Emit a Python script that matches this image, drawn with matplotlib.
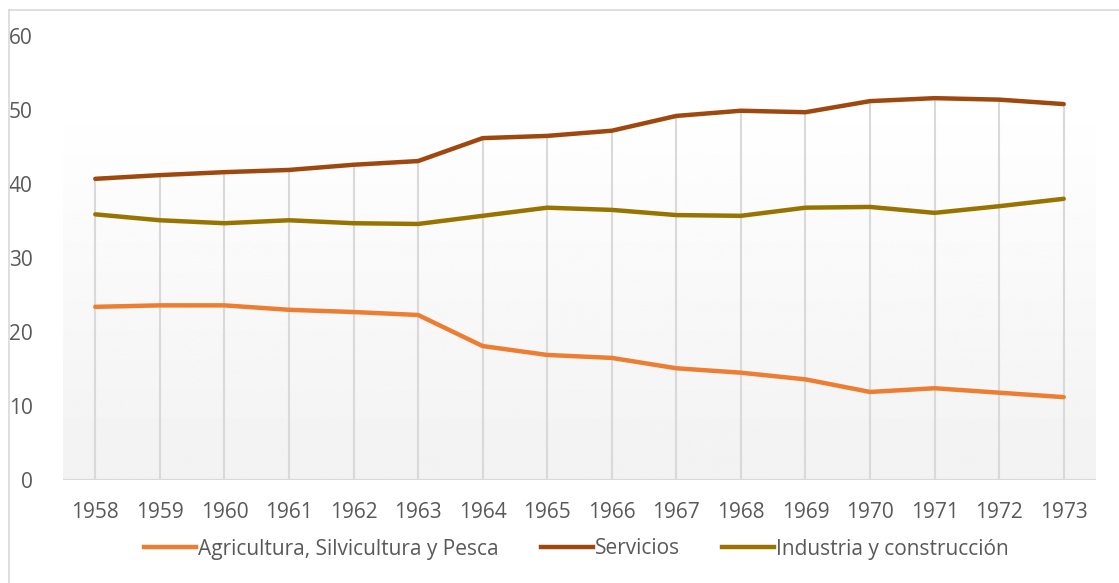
import numpy as np
import matplotlib.pyplot as plt
from matplotlib.lines import Line2D

years = list(range(1958, 1974))
agricultura = [23.4, 23.6, 23.6, 23.0, 22.7, 22.3, 18.1, 16.9, 16.5, 15.1, 14.5, 13.6, 11.9, 12.4, 11.8, 11.2]
servicios = [40.7, 41.2, 41.6, 41.9, 42.6, 43.1, 46.2, 46.5, 47.2, 49.2, 49.9, 49.7, 51.2, 51.6, 51.4, 50.8]
industria = [35.9, 35.1, 34.7, 35.1, 34.7, 34.6, 35.7, 36.8, 36.5, 35.8, 35.7, 36.8, 36.9, 36.1, 37.0, 38.0]
labels = ['Agricultura, Silvicultura y Pesca', 'Servicios', 'Industria y construcción']
colors = ['#ED7D31', '#9E480E', '#997300']

plt.rcParams['font.family'] = ['Open Sans', 'DejaVu Sans']
txt = '#595959'

fig = plt.figure(figsize=(11.19, 5.83), dpi=100)
ax = fig.add_axes([63 / 1119, 1 - 480 / 583, (1096 - 63) / 1119, 444 / 583])

# gradient plot area (Excel style)
grad = np.linspace(0.949, 1.0, 256).reshape(-1, 1)
ax.imshow(grad, extent=[0, 1, 0, 0.867], origin='lower', cmap='gray', vmin=0, vmax=1,
          aspect='auto', transform=ax.transAxes, zorder=0)

# drop lines
tops = np.max([agricultura, servicios, industria], axis=0)
ax.vlines(years, 0, tops, color='#d9d9d9', lw=1.5, zorder=1)
ax.axhline(0, color='#d9d9d9', lw=1.5, zorder=1)

for vals, c in zip([agricultura, servicios, industria], colors):
    ax.plot(years, vals, color=c, lw=3.2, solid_capstyle='round', zorder=3)

ax.set_xlim(1957.5, 1973.5)
ax.set_ylim(0, 60)
ax.set_yticks(range(0, 61, 10))
ax.set_xticks(years)
for s in ax.spines.values():
    s.set_visible(False)
ax.tick_params(length=0, labelsize=15, colors=txt)
ax.tick_params(axis='y', pad=22)
ax.tick_params(axis='x', pad=16)

handles = [Line2D([], [], color=c, lw=3.2) for c in colors]
fig.legend(handles, labels, loc='center', bbox_to_anchor=(0.515, 1 - 549 / 583), ncol=3,
           frameon=False, fontsize=15, labelcolor=txt, handlelength=2.5,
           handletextpad=0.1, columnspacing=2.0)

# outer border (top and left visible)
fig.add_artist(Line2D([9 / 1119, 9 / 1119], [0, 1 - 10 / 583], color='#d9d9d9', lw=1.2))
fig.add_artist(Line2D([9 / 1119, 1], [1 - 10 / 583, 1 - 10 / 583], color='#d9d9d9', lw=1.2))

fig.savefig('out.png', dpi=100)
